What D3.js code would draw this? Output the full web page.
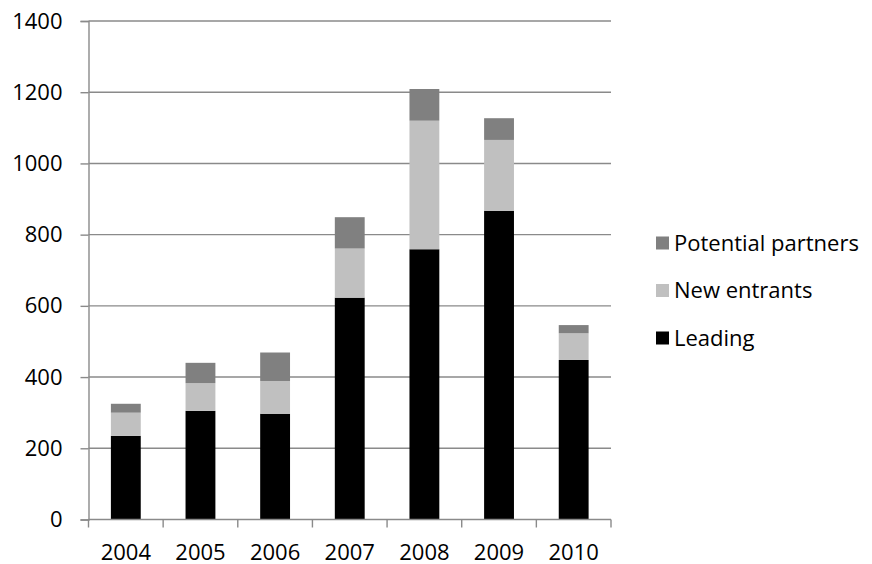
<!DOCTYPE html>
<html>
<head>
<meta charset="utf-8">
<script src="https://cdn.jsdelivr.net/npm/d3@7/dist/d3.min.js"></script>
<style>
  html, body { margin: 0; padding: 0; background: #fff; }
  svg text { font-family: "Open Sans", "Noto Sans", sans-serif; fill: #000; }
</style>
</head>
<body>
<svg id="chart" width="872" height="564"></svg>
<script>
// Yearly counts by group (stacked bottom to top: Leading, New entrants, Potential partners)
const years = ["2004", "2005", "2006", "2007", "2008", "2009", "2010"];
const leading = [235, 305, 297, 623, 759, 867, 448];
const newEntrants = [65, 78, 92, 138, 361, 199, 75];
const potentialPartners = [25, 57, 80, 88, 89, 61, 23];
const seriesNames = ["Leading", "New entrants", "Potential partners"];
const seriesColors = ["#000000", "#c0c0c0", "#808080"];
const yTicks = [0, 200, 400, 600, 800, 1000, 1200, 1400];

const rows = years.map((y, i) => ({
  year: y,
  "Leading": leading[i],
  "New entrants": newEntrants[i],
  "Potential partners": potentialPartners[i]
}));

const svg = d3.select("#chart");
const margin = { left: 88.5, right: 261, top: 21, bottom: 44.5 };
const W = 872, H = 564;
const x0 = margin.left, x1 = W - margin.right;
const y0 = H - margin.bottom, y1 = margin.top;

const x = d3.scaleBand().domain(years).range([x0, x1]).paddingInner(0.6).paddingOuter(0.3);
const y = d3.scaleLinear().domain([0, 1400]).range([y0, y1]);

const gridColor = "#8a8a8a";
const fontSize = "22px";

// Horizontal gridlines
svg.append("g")
  .selectAll("line")
  .data(yTicks.filter(t => t > 0))
  .join("line")
  .attr("x1", x0).attr("x2", x1)
  .attr("y1", d => y(d)).attr("y2", d => y(d))
  .attr("stroke", gridColor).attr("stroke-width", 1.4);

// Stacked bars
const stack = d3.stack().keys(seriesNames);
const layers = stack(rows);
svg.append("g")
  .selectAll("g")
  .data(layers)
  .join("g")
  .attr("fill", (d, i) => seriesColors[i])
  .selectAll("rect")
  .data(d => d)
  .join("rect")
  .attr("x", d => x(d.data.year))
  .attr("width", x.bandwidth())
  .attr("y", d => y(d[1]))
  .attr("height", d => y(d[0]) - y(d[1]));

// Y axis
const yAxis = d3.axisLeft(y).tickValues(yTicks).tickSize(8).tickPadding(18).tickFormat(d3.format("d"));
const gy = svg.append("g").attr("transform", `translate(${x0},0)`).call(yAxis);
gy.select(".domain").attr("stroke", gridColor).attr("stroke-width", 1.4);
gy.selectAll(".tick line").attr("stroke", gridColor).attr("stroke-width", 1.4);
gy.selectAll(".tick text").style("font-size", fontSize).attr("fill", "#000");

// X axis with tick marks at category boundaries
const boundaries = d3.range(years.length + 1).map(i => x0 + i * (x1 - x0) / years.length);
svg.append("line")
  .attr("x1", x0).attr("x2", x1).attr("y1", y0).attr("y2", y0)
  .attr("stroke", gridColor).attr("stroke-width", 1.4);
svg.append("g").selectAll("line").data(boundaries).join("line")
  .attr("x1", d => d).attr("x2", d => d)
  .attr("y1", y0).attr("y2", y0 + 8)
  .attr("stroke", gridColor).attr("stroke-width", 1.4);
svg.append("g").selectAll("text").data(years).join("text")
  .attr("x", d => x(d) + x.bandwidth() / 2)
  .attr("y", y0 + 40)
  .attr("text-anchor", "middle")
  .style("font-size", fontSize)
  .text(d => d);

// Legend
const legendItems = [
  { name: "Potential partners", color: "#808080" },
  { name: "New entrants", color: "#c0c0c0" },
  { name: "Leading", color: "#000000" }
];
const lg = svg.append("g").attr("transform", "translate(656,243)");
const li = lg.selectAll("g").data(legendItems).join("g")
  .attr("transform", (d, i) => `translate(0,${i * 47.5})`);
li.append("rect").attr("x", 0).attr("y", -6.5).attr("width", 13).attr("height", 13).attr("fill", d => d.color);
li.append("text").attr("x", 18).attr("y", 0).attr("dy", "0.36em").style("font-size", fontSize).text(d => d.name);
</script>
</body>
</html>
